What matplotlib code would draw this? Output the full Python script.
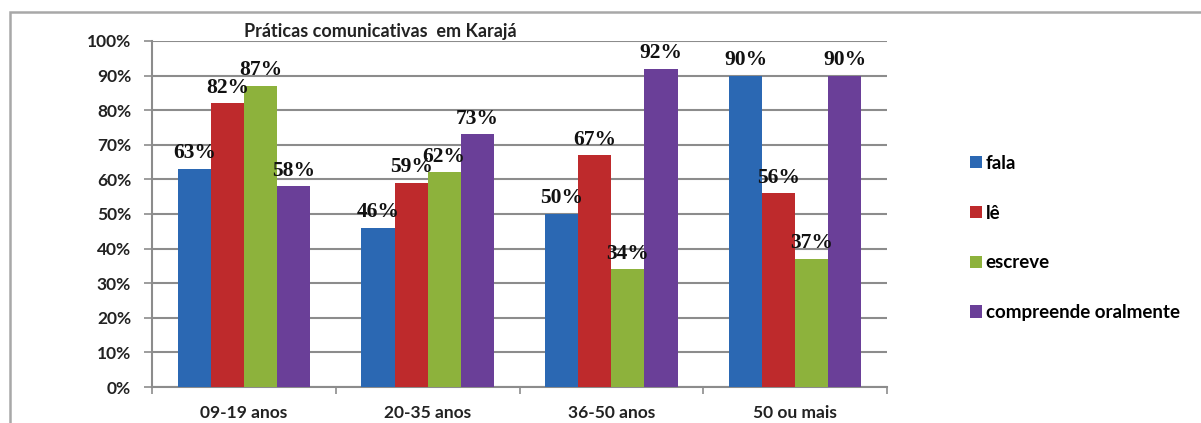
import matplotlib.pyplot as plt
import numpy as np
from matplotlib.patches import Rectangle

# age groups and the share of people for each practice
faixas = ["09-19 anos", "20-35 anos", "36-50 anos", "50 ou mais"]
fala = [63, 46, 50, 90]
le = [82, 59, 67, 56]
escreve = [87, 62, 34, 37]
compreende = [58, 73, 92, 90]

series_names = ["fala", "lê", "escreve", "compreende oralmente"]
series_colors = ["#2b68b3", "#be2a2c", "#8db23c", "#6a3f98"]
y_ticks = [0, 10, 20, 30, 40, 50, 60, 70, 80, 90, 100]

W, H = 1201, 423
fig = plt.figure(figsize=(W / 100, H / 100), dpi=100)

# grey frame around the whole chart area (cut off at right/bottom)
fig.patches.append(Rectangle((10 / W, -0.05), 1.1, 1 - 12 / H + 0.05,
                             transform=fig.transFigure, fill=False,
                             edgecolor="#a8a8a8", linewidth=1.8))

ax = fig.add_axes([152 / W, 1 - 387 / H, (887 - 152) / W, (387 - 41) / H])

x = np.arange(len(faixas))
bar_w = 0.18
all_series = [fala, le, escreve, compreende]
for i, (vals, name, col) in enumerate(zip(all_series, series_names, series_colors)):
    pos = x + (i - 1.5) * bar_w
    ax.bar(pos, vals, width=bar_w, color=col, label=name, zorder=3)
    for xp, v in zip(pos, vals):
        ax.annotate(f"{v}%", (xp, v), xytext=(0, 4), textcoords="offset points",
                    ha="center", va="bottom", fontsize=15.5, fontweight="bold",
                    family="Liberation Serif", color="#111111", zorder=5)

ax.set_xlim(-0.5, len(faixas) - 0.5)
ax.set_ylim(0, 100)
ax.set_yticks(y_ticks)
ax.set_yticklabels([f"{t}%" for t in y_ticks])
ax.yaxis.grid(True, color="#8c8c8c", linewidth=1.5, zorder=0)

# category labels sit between the boundary ticks
ax.set_xticks(np.arange(len(faixas) + 1) - 0.5)
ax.set_xticklabels([])
ax.set_xticks(x, minor=True)
ax.set_xticklabels(faixas, minor=True)
ax.tick_params(axis="x", which="minor", length=0, pad=13)
ax.tick_params(axis="x", which="major", length=5, width=1.2, color="#8c8c8c")
ax.tick_params(axis="y", length=6, width=1.2, color="#8c8c8c", pad=9)

for lab in ax.get_xticklabels(minor=True) + ax.get_yticklabels():
    lab.set_family("Lato")
    lab.set_fontweight("bold")
    lab.set_fontsize(12.5)
    lab.set_color("#222222")

for s in ["top", "right"]:
    ax.spines[s].set_visible(False)
for s in ["left", "bottom"]:
    ax.spines[s].set_color("#8c8c8c")
    ax.spines[s].set_linewidth(1.5)

fig.text(380 / W, 1 - 31 / H, "Práticas comunicativas  em Karajá", ha="center",
         va="center", fontsize=13, fontweight="bold", family="Lato", color="#222222")

ax.legend(loc="center left", bbox_to_anchor=(953 / W, 1 - 238 / H),
          bbox_transform=fig.transFigure, frameon=False, handlelength=0.65,
          handleheight=0.65, handletextpad=0.2, labelspacing=1.75,
          prop={"family": "Lato", "weight": "bold", "size": 13.5})

fig.savefig("out.png", dpi=100)
